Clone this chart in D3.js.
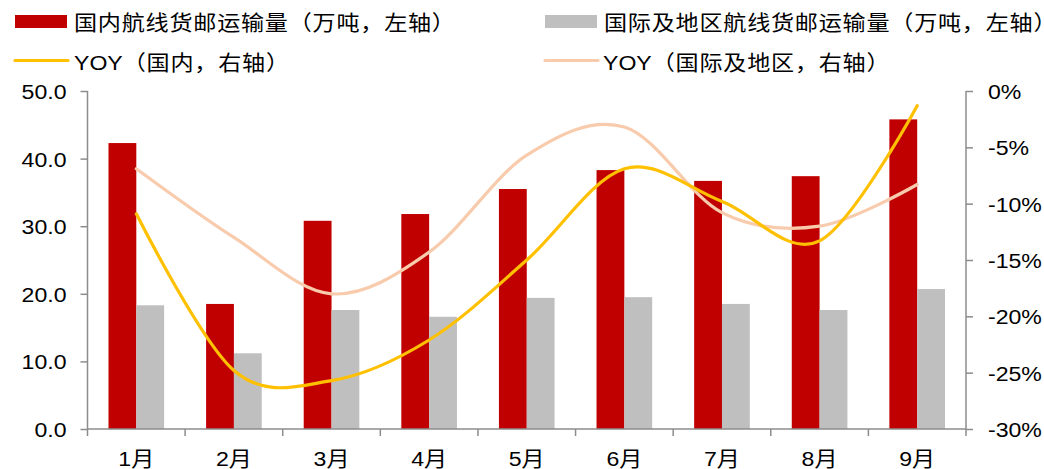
<!DOCTYPE html>
<html>
<head>
<meta charset="utf-8">
<script src="https://cdn.jsdelivr.net/npm/d3@7"></script>
<style>
  html, body { margin: 0; padding: 0; background: #fff; }
  svg { display: block; }
  text { font-family: "Liberation Sans", Arial, "Noto Sans CJK SC", sans-serif; fill: #000; }
</style>
</head>
<body>
<svg id="chart" width="1044" height="469"></svg>
<script>
// Months on the category axis
const months = ["1月", "2月", "3月", "4月", "5月", "6月", "7月", "8月", "9月"];
// Domestic route cargo & mail volume (10k tonnes, left axis)
const domesticVolume = [42.3, 18.5, 30.8, 31.8, 35.5, 38.3, 36.7, 37.4, 45.8];
// International & regional route cargo & mail volume (10k tonnes, left axis)
const intlVolume = [18.3, 11.2, 17.6, 16.6, 19.4, 19.5, 18.5, 17.6, 20.7];
// Year-on-year change, domestic (%, right axis)
const domesticYoy = [-10.9, -24.8, -25.7, -22.1, -15.0, -6.9, -9.8, -13.3, -1.3];
// Year-on-year change, international & regional (%, right axis)
const intlYoy = [-6.9, -13.0, -18.0, -14.3, -5.7, -3.2, -10.8, -12.0, -8.3];
// Axis tick values
const leftTicks = [0, 10, 20, 30, 40, 50];
const rightTicks = [0, -5, -10, -15, -20, -25, -30];
// Legend entries: optional Latin prefix (unspaced) + CJK remainder
const legendItems = [
  { latin: "", label: "国内航线货邮运输量（万吨，左轴）", type: "bar", color: "#C00000" },
  { latin: "", label: "国际及地区航线货邮运输量（万吨，左轴）", type: "bar", color: "#BFBFBF" },
  { latin: "YOY", label: "（国内，右轴）", type: "line", color: "#FFC000" },
  { latin: "YOY", label: "（国际及地区，右轴）", type: "line", color: "#F8CBAD" }
];

const svg = d3.select("#chart");
const plotLeft = 87.5, plotRight = 966, plotTop = 91, plotBottom = 429;
const axisColor = "#8C8C8C";
const SX = 1.1;          // slightly wide type
const FS = 21;           // font size

const x = d3.scaleBand().domain(months).range([plotLeft, plotRight]).paddingInner(0).paddingOuter(0);
const yL = d3.scaleLinear().domain([0, 50]).range([plotBottom, plotTop]);
const yR = d3.scaleLinear().domain([-30, 0]).range([plotBottom, plotTop]);

const bw = x.bandwidth();
const barW = bw * 0.285;
const barOffset = (bw - 2 * barW) / 2;

// Bars
const g = svg.append("g");
g.selectAll("rect.dom").data(domesticVolume).join("rect")
  .attr("class", "dom")
  .attr("x", (d, i) => x(months[i]) + barOffset)
  .attr("y", d => yL(d))
  .attr("width", barW)
  .attr("height", d => yL(0) - yL(d))
  .attr("fill", "#C00000");
g.selectAll("rect.intl").data(intlVolume).join("rect")
  .attr("class", "intl")
  .attr("x", (d, i) => x(months[i]) + barOffset + barW)
  .attr("y", d => yL(d))
  .attr("width", barW)
  .attr("height", d => yL(0) - yL(d))
  .attr("fill", "#BFBFBF");

// Smoothed YOY lines
const cx = i => x(months[i]) + bw / 2;
const line = d3.line().x((d, i) => cx(i)).y(d => yR(d)).curve(d3.curveCardinal.tension(0));
svg.append("path").datum(intlYoy).attr("d", line)
  .attr("fill", "none").attr("stroke", "#F8CBAD").attr("stroke-width", 3.2).attr("stroke-linecap", "round");
svg.append("path").datum(domesticYoy).attr("d", line)
  .attr("fill", "none").attr("stroke", "#FFC000").attr("stroke-width", 3.2).attr("stroke-linecap", "round");

// Left axis
const axL = svg.append("g").attr("transform", `translate(${plotLeft},0)`)
  .call(d3.axisLeft(yL).tickValues(leftTicks).tickFormat(d3.format(".1f")).tickSize(7).tickSizeOuter(0));
axL.select(".domain").attr("stroke", axisColor).attr("stroke-width", 1.5).attr("d", `M0,${plotTop}V${plotBottom + 7}`);
axL.selectAll(".tick line").attr("stroke", axisColor).attr("stroke-width", 1.5);
axL.selectAll(".tick text").attr("font-size", FS).attr("x", -21 / SX).attr("dy", "0.36em")
  .attr("transform", `scale(${SX},1)`)
  .style("font-family", "'Liberation Sans', Arial, sans-serif").attr("fill", "#000");

// Right axis
const axR = svg.append("g").attr("transform", `translate(${plotRight},0)`)
  .call(d3.axisRight(yR).tickValues(rightTicks).tickFormat(d => d + "%").tickSize(7).tickSizeOuter(0));
axR.select(".domain").attr("stroke", axisColor).attr("stroke-width", 1.5).attr("d", `M0,${plotTop}V${plotBottom}`);
axR.selectAll(".tick line").attr("stroke", axisColor).attr("stroke-width", 1.5);
axR.selectAll(".tick text").attr("font-size", FS).attr("x", 22 / SX).attr("dy", "0.36em")
  .attr("transform", `scale(${SX},1)`)
  .style("font-family", "'Liberation Sans', Arial, sans-serif").attr("fill", "#000");

// Bottom axis: baseline with ticks at category boundaries
const axB = svg.append("g").attr("transform", `translate(0,${plotBottom})`);
axB.append("line").attr("x1", plotLeft).attr("x2", plotRight).attr("y1", 0).attr("y2", 0)
  .attr("stroke", axisColor).attr("stroke-width", 1.5);
axB.selectAll("line.tk").data(months).join("line")
  .attr("class", "tk")
  .attr("x1", (d, i) => plotLeft + bw * (i + 1)).attr("x2", (d, i) => plotLeft + bw * (i + 1))
  .attr("y1", 0).attr("y2", 7)
  .attr("stroke", axisColor).attr("stroke-width", 1.5);
axB.selectAll("text").data(months).join("text")
  .attr("transform", d => `translate(${x(d) + bw / 2},36.5) scale(${SX},1)`)
  .attr("text-anchor", "middle").attr("font-size", FS)
  .text(d => d);

// Legend
const legendPos = [
  { x: 15, y: 21.5, tx: 74, ty: 30 }, { x: 545, y: 21.5, tx: 604, ty: 30 },
  { x: 15, y: 60.5, tx: 74, ty: 70 }, { x: 545, y: 60.5, tx: 603, ty: 70 }
];
const lg = svg.append("g");
legendItems.forEach((item, i) => {
  const p = legendPos[i];
  if (item.type === "bar") {
    lg.append("rect").attr("x", p.x).attr("y", p.y - 6.5).attr("width", 52).attr("height", 13).attr("fill", item.color);
  } else {
    lg.append("line").attr("x1", p.x).attr("x2", p.x + 53).attr("y1", p.y).attr("y2", p.y)
      .attr("stroke", item.color).attr("stroke-width", 3.2).attr("stroke-linecap", "round");
  }
  const t = lg.append("text")
    .attr("transform", `translate(${p.tx},${p.ty}) scale(${SX},1)`)
    .attr("font-size", FS);
  if (item.latin) t.append("tspan").text(item.latin);
  t.append("tspan").attr("letter-spacing", 0.7).text(item.label);
});
</script>
</body>
</html>
